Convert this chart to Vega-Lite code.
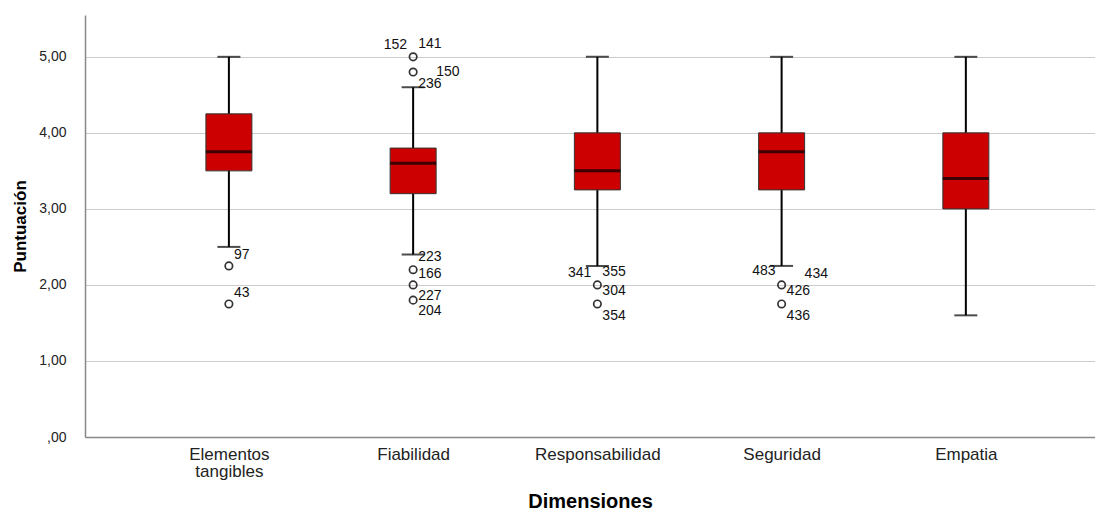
{
  "$schema": "https://vega.github.io/schema/vega-lite/v6.json",
  "width": 1010,
  "height": 422,
  "autosize": {"type": "none"},
  "padding": {"left": 85, "top": 15, "right": 0, "bottom": 75},
  "background": "white",
  "config": {
    "view": {"stroke": null},
    "font": "Liberation Sans"
  },
  "datasets": {
    "cajas": [
      {"dimension": "Elementos tangibles", "min": 2.5, "q1": 3.5, "mediana": 3.75, "q3": 4.25, "max": 5.0},
      {"dimension": "Fiabilidad", "min": 2.4, "q1": 3.2, "mediana": 3.6, "q3": 3.8, "max": 4.6},
      {"dimension": "Responsabilidad", "min": 2.25, "q1": 3.25, "mediana": 3.5, "q3": 4.0, "max": 5.0},
      {"dimension": "Seguridad", "min": 2.25, "q1": 3.25, "mediana": 3.75, "q3": 4.0, "max": 5.0},
      {"dimension": "Empatia", "min": 1.6, "q1": 3.0, "mediana": 3.4, "q3": 4.0, "max": 5.0}
    ],
    "atipicos": [
      {"dimension": "Elementos tangibles", "valor": 2.25},
      {"dimension": "Elementos tangibles", "valor": 1.75},
      {"dimension": "Fiabilidad", "valor": 5.0},
      {"dimension": "Fiabilidad", "valor": 4.8},
      {"dimension": "Fiabilidad", "valor": 2.2},
      {"dimension": "Fiabilidad", "valor": 2.0},
      {"dimension": "Fiabilidad", "valor": 1.8},
      {"dimension": "Responsabilidad", "valor": 2.0},
      {"dimension": "Responsabilidad", "valor": 1.75},
      {"dimension": "Seguridad", "valor": 2.0},
      {"dimension": "Seguridad", "valor": 1.75}
    ],
    "etiquetas": [
      {"dimension": "Elementos tangibles", "valor": 2.39, "caso": "97", "lado": "derecha"},
      {"dimension": "Elementos tangibles", "valor": 1.89, "caso": "43", "lado": "derecha"},
      {"dimension": "Fiabilidad", "valor": 5.16, "caso": "152", "lado": "izquierda"},
      {"dimension": "Fiabilidad", "valor": 5.17, "caso": "141", "lado": "derecha"},
      {"dimension": "Fiabilidad", "valor": 4.8, "caso": "150", "lado": "lejos"},
      {"dimension": "Fiabilidad", "valor": 4.64, "caso": "236", "lado": "derecha"},
      {"dimension": "Fiabilidad", "valor": 2.37, "caso": "223", "lado": "derecha"},
      {"dimension": "Fiabilidad", "valor": 2.14, "caso": "166", "lado": "derecha"},
      {"dimension": "Fiabilidad", "valor": 1.86, "caso": "227", "lado": "derecha"},
      {"dimension": "Fiabilidad", "valor": 1.66, "caso": "204", "lado": "derecha"},
      {"dimension": "Responsabilidad", "valor": 2.16, "caso": "341", "lado": "izquierda"},
      {"dimension": "Responsabilidad", "valor": 2.17, "caso": "355", "lado": "derecha"},
      {"dimension": "Responsabilidad", "valor": 1.92, "caso": "304", "lado": "derecha"},
      {"dimension": "Responsabilidad", "valor": 1.59, "caso": "354", "lado": "derecha"},
      {"dimension": "Seguridad", "valor": 2.18, "caso": "483", "lado": "izquierda"},
      {"dimension": "Seguridad", "valor": 2.14, "caso": "434", "lado": "lejos"},
      {"dimension": "Seguridad", "valor": 1.92, "caso": "426", "lado": "derecha"},
      {"dimension": "Seguridad", "valor": 1.59, "caso": "436", "lado": "derecha"}
    ]
  },
  "encoding": {
    "x": {
      "field": "dimension",
      "type": "nominal",
      "sort": ["Elementos tangibles", "Fiabilidad", "Responsabilidad", "Seguridad", "Empatia"],
      "scale": {"type": "point", "padding": 0.741, "align": 0.527},
      "axis": {
        "title": "Dimensiones",
        "titleFontSize": 20,
        "titleFontWeight": "bold",
        "titleColor": "#000000",
        "titlePadding": 12,
        "labelAngle": 0,
        "labelFontSize": 17,
        "labelColor": "#222222",
        "labelPadding": 9,
        "labelLineHeight": 17,
        "labelExpr": "datum.label == 'Elementos tangibles' ? ['Elementos', 'tangibles'] : datum.label",
        "domain": true,
        "domainColor": "#888888",
        "domainWidth": 1.5,
        "ticks": false,
        "grid": false
      }
    }
  },
  "layer": [
    {
      "data": {"name": "cajas"},
      "mark": {"type": "rule", "color": "#000000", "strokeWidth": 2},
      "encoding": {
        "y": {
          "field": "min",
          "type": "quantitative",
          "scale": {"domain": [0, 5.55], "nice": false},
          "axis": {
            "title": "Puntuación",
            "titleFontSize": 17,
            "titleFontWeight": "bold",
            "titleColor": "#000000",
            "titlePadding": 9,
            "values": [0, 1, 2, 3, 4, 5],
            "labelExpr": "datum.value == 0 ? ',00' : replace(format(datum.value, '.2f'), '.', ',')",
            "labelFontSize": 14,
            "labelColor": "#222222",
            "labelPadding": 19,
            "ticks": false,
            "domainColor": "#888888",
            "domainWidth": 1.5,
            "gridColor": "#cccccc",
            "gridWidth": 1
          }
        },
        "y2": {"field": "max"}
      }
    },
    {
      "data": {"name": "cajas"},
      "mark": {"type": "tick", "color": "#000000", "size": 23, "thickness": 2},
      "encoding": {"y": {"field": "min", "type": "quantitative"}}
    },
    {
      "data": {"name": "cajas"},
      "mark": {"type": "tick", "color": "#000000", "size": 23, "thickness": 2},
      "encoding": {"y": {"field": "max", "type": "quantitative"}}
    },
    {
      "data": {"name": "cajas"},
      "mark": {"type": "bar", "size": 46, "fill": "#cc0000", "stroke": "#333333", "strokeWidth": 1},
      "encoding": {
        "y": {"field": "q1", "type": "quantitative"},
        "y2": {"field": "q3"}
      }
    },
    {
      "data": {"name": "cajas"},
      "mark": {"type": "tick", "color": "#000000", "size": 46, "thickness": 3},
      "encoding": {"y": {"field": "mediana", "type": "quantitative"}}
    },
    {
      "data": {"name": "atipicos"},
      "mark": {"type": "point", "shape": "circle", "filled": false, "stroke": "#333333", "strokeWidth": 1.7, "size": 55, "opacity": 1},
      "encoding": {"y": {"field": "valor", "type": "quantitative"}}
    },
    {
      "data": {"name": "etiquetas"},
      "transform": [{"filter": "datum.lado == 'derecha'"}],
      "mark": {"type": "text", "align": "left", "baseline": "middle", "dx": 5, "fontSize": 14, "color": "#111111"},
      "encoding": {
        "y": {"field": "valor", "type": "quantitative"},
        "text": {"field": "caso"}
      }
    },
    {
      "data": {"name": "etiquetas"},
      "transform": [{"filter": "datum.lado == 'lejos'"}],
      "mark": {"type": "text", "align": "left", "baseline": "middle", "dx": 23, "fontSize": 14, "color": "#111111"},
      "encoding": {
        "y": {"field": "valor", "type": "quantitative"},
        "text": {"field": "caso"}
      }
    },
    {
      "data": {"name": "etiquetas"},
      "transform": [{"filter": "datum.lado == 'izquierda'"}],
      "mark": {"type": "text", "align": "right", "baseline": "middle", "dx": -6, "fontSize": 14, "color": "#111111"},
      "encoding": {
        "y": {"field": "valor", "type": "quantitative"},
        "text": {"field": "caso"}
      }
    }
  ]
}
